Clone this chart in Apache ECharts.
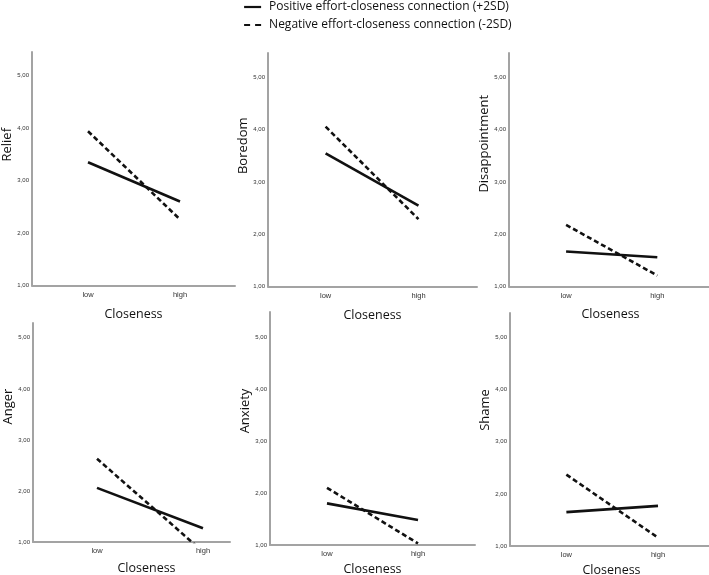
<!DOCTYPE html>
<html>
<head>
<meta charset="utf-8">
<script src="https://cdn.jsdelivr.net/npm/echarts@6/dist/echarts.min.js"></script>
<style>
html,body{margin:0;padding:0;background:#fff;}
#chart{width:709px;height:575px;}
</style>
</head>
<body>
<div id="chart"></div>
<script>
// ---- data ----
const emotions = ['Relief', 'Boredom', 'Disappointment', 'Anger', 'Anxiety', 'Shame'];
const closenessLevels = ['low', 'high'];
const seriesNames = ['Positive effort-closeness connection (+2SD)', 'Negative effort-closeness connection (-2SD)'];
const positiveValues = [
  [3.35, 2.60],
  [3.55, 2.55],
  [1.67, 1.56],
  [2.06, 1.27],
  [1.80, 1.48],
  [1.65, 1.77]
];
const negativeValues = [
  [3.94, 2.26],
  [4.06, 2.29],
  [2.18, 1.21],
  [2.63, 0.81],
  [2.10, 1.03],
  [2.37, 1.16]
];
const yTickValues = [1, 2, 3, 4, 5];
const xAxisTitle = 'Closeness';

// ---- layout (positions only) ----
const layout = [
  {left: 32,  top: 52,  width: 203, height: 233.5, xMin: -0.609, xMax: 1.598, yMax: 5.45, xGap: 22, yShift: 48, xShift: 0},
  {left: 268, top: 53,  width: 209, height: 233.5, xMin: -0.62,  xMax: 1.63,  yMax: 5.47, xGap: 22, yShift: 48, xShift: 0},
  {left: 509, top: 53,  width: 203, height: 233.5, xMin: -0.626, xMax: 1.6,   yMax: 5.47, xGap: 21, yShift: 52, xShift: 0},
  {left: 33,  top: 323, width: 197, height: 219,   xMin: -0.604, xMax: 1.255, yMax: 5.29, xGap: 20, yShift: 52, xShift: 30},
  {left: 270, top: 312, width: 205, height: 233,   xMin: -0.626, xMax: 1.626, yMax: 5.48, xGap: 18, yShift: 35, xShift: 0},
  {left: 510, top: 313, width: 203, height: 233,   xMin: -0.615, xMax: 1.6,   yMax: 5.47, xGap: 18, yShift: 39, xShift: 0}
];

const FONT = 'Open Sans';
const axisColor = '#a3a3a3';
const lineColor = '#111';

const grids = [], xAxes = [], yAxes = [], series = [];
emotions.forEach((name, i) => {
  const L = layout[i];
  grids.push({left: L.left, top: L.top, width: L.width, height: L.height, containLabel: false, outerBoundsMode: 'none'});
  xAxes.push({
    type: 'value', gridIndex: i, min: L.xMin, max: L.xMax,
    name: xAxisTitle, nameLocation: 'middle', nameGap: L.xGap,
    nameTextStyle: {fontFamily: FONT, fontSize: 12.5, color: '#111', padding: [0, 0, 0, L.xShift]},
    axisLine: {show: true, onZero: false, lineStyle: {color: axisColor, width: 2}},
    axisTick: {show: false},
    splitLine: {show: false},
    axisLabel: {
      customValues: closenessLevels.map((c, k) => k),
      formatter: v => closenessLevels[Math.round(v)] || '',
      fontFamily: 'Liberation Sans', fontSize: 7.5, color: '#333', margin: 5
    }
  });
  yAxes.push({
    type: 'value', gridIndex: i, min: 1, max: L.yMax,
    name: name, nameLocation: 'middle', nameGap: 16, nameRotate: 90,
    nameTextStyle: {fontFamily: FONT, fontSize: 13, color: '#111', padding: [0, 0, 0, L.yShift]},
    axisLine: {show: true, onZero: false, lineStyle: {color: axisColor, width: 2}},
    axisTick: {show: false},
    splitLine: {show: false},
    axisLabel: {
      customValues: yTickValues,
      formatter: v => v.toFixed(2).replace('.', ','),
      fontFamily: 'Liberation Sans', fontSize: 6, color: '#333', margin: 3
    }
  });
  series.push({
    name: seriesNames[0], type: 'line', xAxisIndex: i, yAxisIndex: i,
    data: positiveValues[i].map((v, k) => [k, v]),
    symbol: 'none', clip: true, silent: true,
    color: lineColor,
    lineStyle: {color: lineColor, width: 2.6, type: 'solid'}
  });
  series.push({
    name: seriesNames[1], type: 'line', xAxisIndex: i, yAxisIndex: i,
    data: negativeValues[i].map((v, k) => [k, v]),
    symbol: 'none', clip: true, silent: true,
    color: lineColor,
    lineStyle: {color: lineColor, width: 2.6, type: [5, 3]}
  });
});

const chart = echarts.init(document.getElementById('chart'), null, {renderer: 'canvas'});
chart.setOption({
  backgroundColor: '#fff',
  animation: false,
  legend: {
    orient: 'vertical', left: 243, top: 1, padding: 0,
    itemWidth: 17, itemHeight: 12, itemGap: 6,
    selectedMode: false,
    itemStyle: {opacity: 0, borderWidth: 0},
    data: [
      {name: seriesNames[0], itemStyle: {opacity: 0, borderWidth: 0}, lineStyle: {type: 'solid', width: 2.2, color: lineColor}},
      {name: seriesNames[1], itemStyle: {opacity: 0, borderWidth: 0}, lineStyle: {type: [6, 5], width: 2.2, color: lineColor}}
    ],
    textStyle: {fontFamily: FONT, fontSize: 12, color: '#111', lineHeight: 12, padding: [0, 0, 0, 3]}
  },
  grid: grids,
  xAxis: xAxes,
  yAxis: yAxes,
  series: series
});
</script>
</body>
</html>
